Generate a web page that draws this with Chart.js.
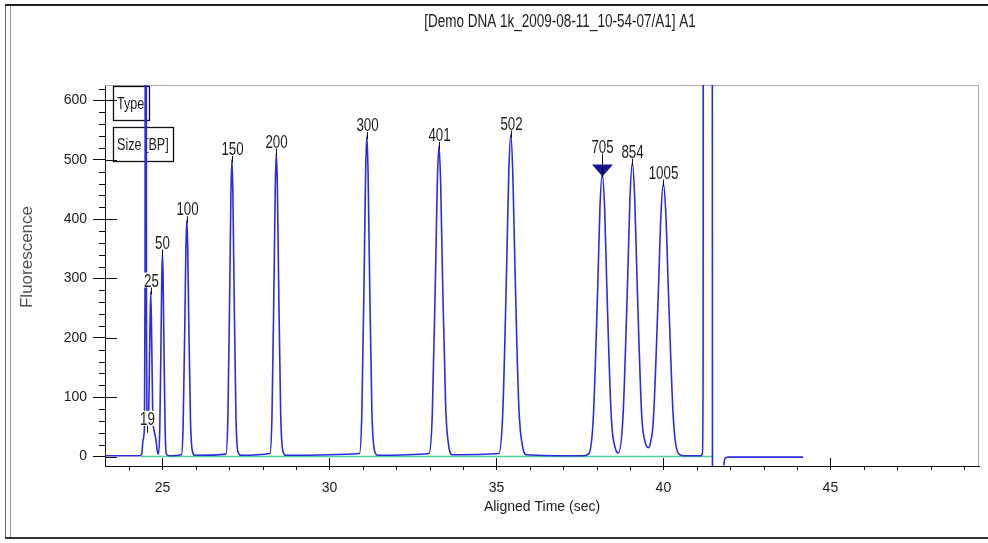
<!DOCTYPE html>
<html lang="en">
<head>
<meta charset="UTF-8">
<title>Demo DNA 1k A1</title>
<script src="https://cdn.jsdelivr.net/npm/chart.js"></script>
<style>
  html, body { margin: 0; padding: 0; background: #fff; }
  #wrap { position: relative; width: 988px; height: 543px; overflow: hidden; }
  #myChart { position: absolute; left: 0; top: 0; }
  .edge { position: absolute; background: #333; }
</style>
</head>
<body>
<div id="wrap">
  <canvas id="myChart" width="988" height="543"></canvas>
  <div class="edge" style="left:5px;top:5px;width:1px;height:534px;background:#666"></div>
  <div class="edge" style="left:10px;top:5px;width:1px;height:534px;background:#999"></div>
  <div class="edge" style="left:5px;top:4px;width:983px;height:2px;background:#222"></div>
  <div class="edge" style="left:5px;top:537px;width:983px;height:2px;background:#333"></div>
</div>
<script>
// electropherogram trace, time (s) vs fluorescence
const traceTime = [
  23.28, 24.30, 24.38, 24.42, 24.46, 24.48, 24.50, 24.52, 24.55, 24.59,
  24.62, 24.65, 24.68, 24.71, 24.75, 24.80, 24.85, 24.88, 24.92, 24.96,
  24.98, 25.00, 25.02, 25.04, 25.08, 25.12, 25.20,
  25.57, 25.62, 25.675, 25.703, 25.73, 25.757, 25.785, 25.84, 25.90, 25.98,
  26.90, 26.96, 27.02, 27.05, 27.08, 27.11, 27.14, 27.20, 27.26, 27.35,
  28.22, 28.28, 28.345, 28.378, 28.41, 28.442, 28.475, 28.54, 28.61, 28.70,
  30.90, 30.97, 31.045, 31.083, 31.12, 31.158, 31.195, 31.27, 31.35, 31.45,
  32.98, 33.08, 33.18, 33.23, 33.28, 33.33, 33.38, 33.48, 33.58, 33.68,
  35.07, 35.19, 35.31, 35.37, 35.43, 35.49, 35.55, 35.67, 35.79, 35.90,
  37.60, 37.77, 37.90, 38.035, 38.10, 38.17, 38.24, 38.305, 38.44, 38.57, 38.65,
  38.79, 38.93, 39.00, 39.07, 39.14, 39.21, 39.35, 39.45, 39.55,
  39.62, 39.70, 39.85, 39.925, 40.00, 40.075, 40.15, 40.30, 40.45, 40.60,
  41.12, 41.17, 41.19, 41.21, 41.45, 41.47, 41.64,
  41.81, 41.83, 41.87, 41.95, 43.00, 44.18
];
const traceRfu = [
  1.2, 1.2, 4, 28, 46, 300, 2500, 300, 52, 80,
  190, 278, 190, 70, 44, 30, 8, 4, 46, 208,
  302, 342, 302, 208, 46, 4, 1.2,
  3, 54, 242, 351, 398, 351, 242, 60, 8, 2,
  4, 68, 303, 441, 500, 441, 303, 70, 8, 2,
  5, 69, 311, 452, 512, 452, 311, 72, 8, 2,
  5, 73, 328, 476, 540, 476, 330, 80, 10, 2,
  5, 71, 317, 461, 523, 461, 320, 85, 15, 3,
  5, 73, 329, 478, 542, 478, 332, 85, 15, 3,
  1.2, 5, 64, 288, 419, 475, 419, 288, 66, 12, 6,
  67, 300, 437, 495, 437, 300, 70, 25, 15,
  25, 62, 279, 406, 460, 406, 279, 62, 5, 1.2,
  1.2, 5, 200, 3000, 3000, -300, null,
  -15, -6, -2, -1, -1, -1
];

// fitted baseline under the sized region
const baselineTime = [24.35, 41.47];
const baselineRfu = [0, 0];

// size standard calls (bp) at their peak apex
const peakSize = ['19', '25', '50', '100', '150', '200', '300', '401', '502', '705', '854', '1005'];
const peakTime = [24.545, 24.65, 25.00, 25.73, 27.08, 28.41, 31.12, 33.28, 35.43, 38.17, 39.07, 40.00];
const peakRfu = [45, 278, 342, 398, 500, 512, 540, 523, 542, 475, 495, 460];
const markedPeak = '705';

const xTicks = [25, 30, 35, 40, 45];
const yTicks = [0, 100, 200, 300, 400, 500, 600];
const xMinor = [24, 26, 27, 28, 29, 31, 32, 33, 34, 36, 37, 38, 39, 41, 42, 43, 44, 46, 47, 48, 49];

const chartTitle = '[Demo DNA 1k_2009-08-11_10-54-07/A1] A1';

const family = "'Liberation Sans', Arial, sans-serif";
const textColor = '#1c1c1c';

// the viewer uses a tall narrow face, so squeeze text horizontally
function narrowText(ctx, text, x, y, size, k) {
  ctx.save();
  ctx.translate(x, y);
  ctx.scale(k, 1);
  ctx.font = size + 'px ' + family;
  ctx.fillText(text, 0, 0);
  ctx.restore();
}
function narrowWidth(ctx, text, size, k) {
  ctx.save();
  ctx.font = size + 'px ' + family;
  const w = ctx.measureText(text).width * k;
  ctx.restore();
  return w;
}

const extras = {
  id: 'extras',
  beforeDatasetsDraw(chart) {
    const {ctx, chartArea: a} = chart;
    ctx.save();
    // top and right edge of the plot frame
    ctx.strokeStyle = '#a6a6a6';
    ctx.lineWidth = 1;
    ctx.beginPath();
    ctx.moveTo(a.left, a.top + 0.5);
    ctx.lineTo(a.right - 0.5, a.top + 0.5);
    ctx.lineTo(a.right - 0.5, a.bottom);
    ctx.stroke();

    // Type / Size boxes in the corner
    ctx.textBaseline = 'middle';
    ctx.textAlign = 'left';
    const boxes = [['Type', 8, 1, 36, 34], ['Size [BP]', 8, 42, 60, 34]];
    boxes.forEach(([t, dx, dy, w, h]) => {
      const bx = a.left + dx, by = a.top + dy;
      ctx.fillStyle = '#fff';
      ctx.fillRect(bx, by, w, h);
      ctx.strokeStyle = '#111';
      ctx.lineWidth = 1.3;
      ctx.strokeRect(bx + 0.5, by + 0.5, w, h);
      ctx.fillStyle = textColor;
      narrowText(ctx, t, bx + 4, by + h / 2 + 1, 17, 0.74);
    });
    ctx.restore();
  },
  afterDatasetsDraw(chart) {
    const {ctx} = chart;
    const xs = chart.scales.x, ys = chart.scales.y;
    ctx.save();
    ctx.textAlign = 'center';
    ctx.textBaseline = 'alphabetic';
    peakSize.forEach((s, i) => {
      const x = Math.round(xs.getPixelForValue(peakTime[i])) + 0.5;
      const top = ys.getPixelForValue(peakRfu[i]);
      let textBottom = top - 5;
      if (s === markedPeak) {
        ctx.fillStyle = '#14149a';
        ctx.beginPath();
        ctx.moveTo(x - 10.5, top - 10);
        ctx.lineTo(x + 10.5, top - 10);
        ctx.lineTo(x, top + 2);
        ctx.closePath();
        ctx.fill();
        textBottom = top - 22;
      }
      ctx.strokeStyle = '#111';
      ctx.lineWidth = 1;
      ctx.beginPath();
      ctx.moveTo(x, textBottom);
      ctx.lineTo(x, top + 3);
      ctx.stroke();
      const tw = narrowWidth(ctx, s, 18, 0.74);
      ctx.fillStyle = '#fff';
      ctx.fillRect(x - tw / 2 - 1, textBottom - 14, tw + 2, 15);
      ctx.fillStyle = textColor;
      narrowText(ctx, s, x, textBottom, 18, 0.74);
    });
    ctx.restore();
  },
  afterDraw(chart) {
    const {ctx, chartArea: a} = chart;
    const xs = chart.scales.x, ys = chart.scales.y;
    ctx.save();
    ctx.strokeStyle = '#111';
    ctx.lineWidth = 1;
    ctx.beginPath();
    // minor ticks on the value axis, every 20
    for (let v = 20; v <= 620; v += 20) {
      if (v % 100 === 0) continue;
      const y = Math.round(ys.getPixelForValue(v)) + 0.5;
      ctx.moveTo(a.left - 6, y);
      ctx.lineTo(a.left, y);
    }
    // major ticks cross into the plot
    yTicks.forEach(v => {
      const y = Math.round(ys.getPixelForValue(v)) + 0.5;
      ctx.moveTo(a.left, y);
      ctx.lineTo(a.left + 12, y);
    });
    xMinor.forEach(v => {
      const x = Math.round(xs.getPixelForValue(v)) + 0.5;
      ctx.moveTo(x, a.bottom);
      ctx.lineTo(x, a.bottom + 4);
    });
    xTicks.forEach(v => {
      const x = Math.round(xs.getPixelForValue(v)) + 0.5;
      ctx.moveTo(x, a.bottom - 8);
      ctx.lineTo(x, a.bottom);
    });
    ctx.stroke();

    ctx.fillStyle = textColor;
    ctx.textAlign = 'center';
    ctx.textBaseline = 'middle';
    narrowText(ctx, chartTitle, 560, 22, 18, 0.75);

    ctx.translate(27.5, 257);
    ctx.rotate(-Math.PI / 2);
    ctx.fillStyle = '#505050';
    ctx.font = '17px ' + family;
    ctx.fillText('Fluorescence', 0, 0);
    ctx.restore();
  }
};

const trace = traceTime.map((t, i) => ({x: t, y: traceRfu[i]}));
const baseline = baselineTime.map((t, i) => ({x: t, y: baselineRfu[i]}));

const tickFont = {family: family, size: 14};

new Chart(document.getElementById('myChart'), {
  type: 'line',
  data: {
    datasets: [{
      label: 'A1',
      data: trace,
      borderColor: '#2b2be2',
      borderWidth: 1.6,
      pointRadius: 0,
      cubicInterpolationMode: 'monotone',
      spanGaps: false,
      order: 0
    }, {
      label: 'baseline',
      data: baseline,
      borderColor: '#4fd29a',
      borderWidth: 1.4,
      pointRadius: 0,
      order: 1
    }]
  },
  options: {
    responsive: false,
    animation: false,
    events: [],
    layout: {padding: {top: 85, right: 9, bottom: 0, left: 0}},
    plugins: {legend: {display: false}, tooltip: {enabled: false}},
    scales: {
      x: {
        type: 'linear',
        min: 23.28,
        max: 49.45,
        afterBuildTicks: s => { s.ticks = xTicks.map(v => ({value: v})); },
        afterFit: s => { s.height = 77; },
        grid: {drawOnChartArea: false, tickLength: 4, color: '#111'},
        border: {color: '#111', width: 1},
        ticks: {font: tickFont, color: textColor, padding: 10, maxRotation: 0},
        title: {display: true, text: 'Aligned Time (sec)', font: tickFont, color: textColor, padding: {top: 0, bottom: 27}}
      },
      y: {
        min: -16,
        max: 626,
        afterBuildTicks: s => { s.ticks = yTicks.map(v => ({value: v})); },
        afterFit: s => { s.width = 105; },
        grid: {drawOnChartArea: false, tickLength: 12, color: '#111'},
        border: {color: '#111', width: 1},
        ticks: {font: tickFont, color: textColor, padding: 6}
      }
    }
  },
  plugins: [extras]
});
</script>
</body>
</html>
